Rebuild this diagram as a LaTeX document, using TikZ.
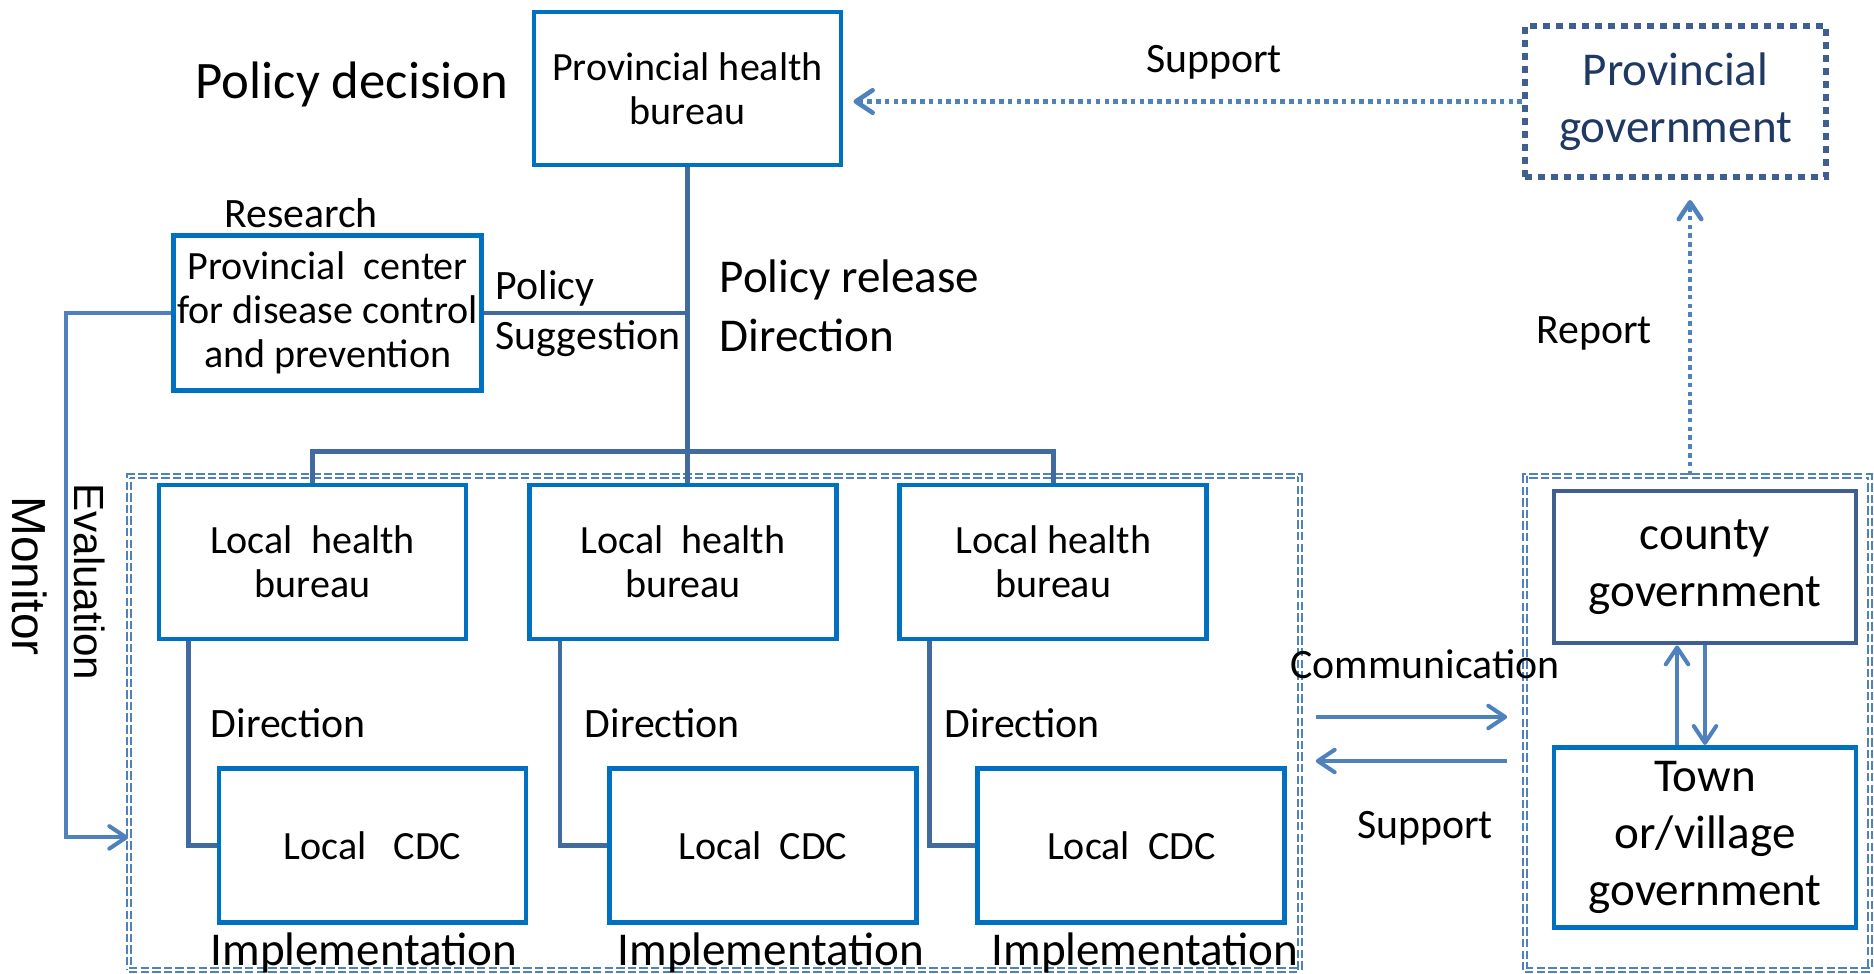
\documentclass[tikz,border=0pt]{standalone}
\usepackage{fontspec}
\setmainfont{Carlito}
\newfontfamily\sidefont{Liberation Sans}
\usetikzlibrary{arrows.meta}
\usetikzlibrary{positioning}
\definecolor{boxblue}{HTML}{0070C0}
\definecolor{linkblue}{HTML}{416A9E}
\definecolor{arrowblue}{HTML}{4F81BD}
\definecolor{govnavy}{HTML}{1F3864}
\definecolor{govedge}{HTML}{3E5F8F}
\tikzset{auto, >={Straight Barb[length=4.8pt,width=6.4pt,round]}, node distance=1cm, font=\fontsize{11.4}{12.4}\selectfont}
\tikzstyle{block} = [draw=boxblue, line width=1.4pt, fill=white, rectangle, minimum width=3.07cm, minimum height=1.53cm, text centered, align=center, inner sep=1pt]
\tikzstyle{govblock} = [block, draw=govedge, font=\fontsize{13.4}{16.2}\selectfont]
\tikzstyle{groupbox} = [draw=arrowblue, dash pattern=on 2.4pt off 0.9pt, double, double distance=0.55pt, line width=0.45pt, rectangle, inner sep=0pt]
\tikzstyle{linkline} = [draw=linkblue, line width=1.3pt]
\tikzstyle{flow} = [draw=arrowblue, line width=1.15pt, ->]
\tikzstyle{dotflow} = [flow, line width=1.3pt, dash pattern=on 1.3pt off 1.2pt]
\tikzstyle{note} = [font=\fontsize{11.9}{14}\selectfont, inner sep=0pt]
\tikzstyle{bignote} = [font=\fontsize{13.4}{16.8}\selectfont, inner sep=0pt, align=left]
\begin{document}
\begin{tikzpicture}
    \useasboundingbox (0,0) rectangle (18.74,-9.74);
    % dashed frames
    \node [groupbox, minimum width=11.71cm, minimum height=4.94cm] (grpL) at (7.145,-7.23) {};
    \node [groupbox, minimum width=3.45cm, minimum height=4.94cm] (grpR) at (16.975,-7.23) {};

    \node [block] (phb) at (6.875,-0.885) {Provincial health\\bureau};
    \node [block, minimum height=1.55cm, font=\fontsize{11.4}{12.6}\selectfont, below left=0.655cm and 0.475cm of phb] (pcdc) {Provincial\ \ center\\for disease control\\and prevention};
    \node [govblock, line width=1.7pt, dash pattern=on 2pt off 1.7pt, text=govnavy, fill=none, minimum width=3.01cm, minimum height=1.51cm] (pgov) at (16.755,-1.015) {Provincial\\government};

    \node [block, minimum height=1.54cm] (lhb1) at (3.125,-5.62) {Local\ \ health\\bureau};
    \node [block, minimum height=1.54cm, right=0.585cm of lhb1] (lhb2) {Local\ \ health\\bureau};
    \node [block, minimum height=1.54cm, right=0.585cm of lhb2] (lhb3) {Local health\\bureau};
    \node [block, minimum height=1.54cm, below=1.245cm of lhb1, xshift=0.6cm] (lcdc1) {Local\ \ \ CDC};
    \node [block, minimum height=1.54cm, below=1.245cm of lhb2, xshift=0.8cm] (lcdc2) {Local\ \ CDC};
    \node [block, minimum height=1.54cm, below=1.245cm of lhb3, xshift=0.78cm] (lcdc3) {Local\ \ CDC};

    \node [govblock, minimum width=3.02cm, minimum height=1.52cm] (county) at (17.05,-5.67) {county\\government};
    \node [govblock, draw=boxblue, minimum width=3.02cm, minimum height=1.80cm, below=0.995cm of county] (town) {Town\\or/village\\government};

    % texts
    \node [font=\fontsize{15}{18}\selectfont] (decide) at (3.52,-0.84) {Policy decision};
    \node [note] (suptop) at (12.14,-0.62) {Support};
    \node [note] (research) at (3.01,-2.13) {Research};
    \node [note, anchor=west] (policy) at (4.95,-2.88) {Policy};
    \node [note, anchor=west] (suggest) at (4.95,-3.39) {Suggestion};
    \node [bignote, anchor=west] (release) at (7.19,-3.055) {Policy release\\Direction};
    \node [note] (report) at (15.94,-3.33) {Report};
    \node [note] (comm) at (14.25,-6.64) {Communication};
    \node [note] (supbot) at (14.25,-8.28) {Support};
    \node [note, anchor=west] (dir1) at (2.10,-7.23) {Direction};
    \node [note, anchor=west] (dir2) at (5.84,-7.23) {Direction};
    \node [note, anchor=west] (dir3) at (9.44,-7.23) {Direction};
    \node [bignote, anchor=base] (impl1) at (3.64,-9.66) {Implementation};
    \node [bignote, anchor=base] (impl2) at (7.71,-9.66) {Implementation};
    \node [bignote, anchor=base] (impl3) at (11.45,-9.66) {Implementation};
    \node [font=\sidefont\fontsize{13.6}{14}\selectfont, rotate=-90, inner sep=0pt] (monitor) at (0.30,-5.76) {Monitor};
    \node [font=\sidefont\fontsize{12}{14}\selectfont, rotate=-90, inner sep=0pt] (evaluate) at (0.90,-5.82) {Evaluation};

    % hierarchy lines
    \draw [linkline] (phb.south) -- (phb.south |- lhb2.north);
    \draw [linkline] (pcdc.east) -- (pcdc.east -| phb.south);
    \draw [linkline] (lhb1.north) -- ++(0,0.31) -| (lhb3.north);
    \draw [linkline] ([xshift=0.32cm]lhb1.south west) |- (lcdc1.west);
    \draw [linkline] ([xshift=0.33cm]lhb2.south west) |- (lcdc2.west);
    \draw [linkline] ([xshift=0.32cm]lhb3.south west) |- (lcdc3.west);

    % arrows
    \draw [dotflow, shorten >=0.1cm] (pgov.west) -- (pgov.west -| phb.east);
    \draw [dotflow, shorten >=0.2cm] ([xshift=-0.075cm]grpR.north) -- ([xshift=-0.075cm]grpR.north |- pgov.south);
    \draw [flow, shorten <=0.15cm, shorten >=0.17cm] ([yshift=0.06cm]grpL.east) -- ([yshift=0.06cm]grpL.east -| grpR.west);
    \draw [flow, shorten <=0.17cm, shorten >=0.15cm] ([yshift=-0.38cm]grpL.east -| grpR.west) -- ([yshift=-0.38cm]grpL.east);
    \draw [flow] ([xshift=-0.28cm]town.north) -- ([xshift=-0.28cm]county.south);
    \draw [flow] (county.south) -- (town.north);
    \draw [flow] (pcdc.west) -- ++(-1.05,0) |- ([yshift=0.08cm]lcdc1.west -| grpL.west);
\end{tikzpicture}
\end{document}
